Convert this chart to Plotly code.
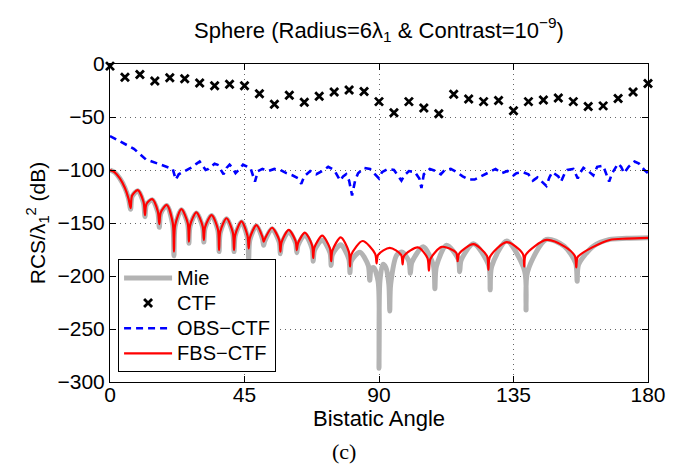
import plotly.graph_objects as go

# ---------------- data ----------------
ctf_angle = list(range(0, 181, 5))
ctf_db = [-2, -12.5, -10, -16, -13, -14, -18, -20.5, -19, -20.5,
          -28, -38, -29.5, -36, -30.5, -26.5, -24.5, -26, -35.5,
          -46, -35.5, -41.5, -47, -28.5, -33, -35.5, -34.5, -44,
          -35.5, -34, -32, -35.5, -40, -39.5, -32.5, -26.5, -18.5]

obs_angle = [0, 2, 4, 6, 8, 10, 12, 14, 16, 18, 20, 21, 22, 23, 25, 27, 29, 30, 31, 32,
             33, 35, 36, 37, 38, 39, 40, 41, 42, 43, 44.5, 46, 47, 48.5, 49.5, 51, 53, 55, 57, 59,
             61, 63, 64, 65, 67, 69, 71, 73, 75, 77, 78, 79, 80, 81, 82, 83, 85, 87, 89, 90,
             91, 93, 95, 96, 97.5, 98.5, 100, 102, 103.5, 104.2, 105, 107, 109, 110.7, 112, 114, 116, 118, 120, 122,
             124, 126, 128, 129, 130, 131, 133, 135, 136, 138, 140, 141.5, 143, 144.5, 146, 147, 148, 150, 150.9, 152,
             153, 155, 156.5, 157, 158.4, 160, 161.7, 163, 165, 167, 168, 170, 171, 172, 173.5, 175.5, 177, 178.8, 180]
obs_db = [-68, -71, -74, -77, -80, -85, -90, -92, -94, -96, -97.5, -99, -109, -104, -101, -98, -94, -92, -96, -100,
          -99, -94, -95, -99, -104, -98, -95, -98, -103, -100, -95, -97, -98, -111, -101, -99, -101, -99, -100, -103,
          -105, -108, -113, -106, -101, -104, -101, -97, -100, -110, -106, -104, -110, -124, -110, -103, -98, -99, -105, -108,
          -102, -99, -100, -104, -110, -105, -101, -102, -108, -117, -104, -99, -101, -104, -100, -99, -102, -106, -109, -109,
          -106, -103, -100, -99, -101, -103, -101, -105, -103, -102, -104, -110, -107, -111, -115, -107, -102, -106, -111, -104,
          -100, -99, -108, -104, -98, -101, -105, -97, -96, -111, -103, -94, -97, -103, -97, -92, -94, -100, -103]

fbs_angle = [0, 1.5, 3.3, 5.0, 6.2, 6.9, 7.4, 9.3, 11.2, 11.7, 12.2, 14.1, 16.0, 16.5, 17.0, 19.0,
             21.0, 21.4, 21.8, 23.9, 26.0, 26.4, 26.8, 28.9, 31.0, 31.4, 31.8, 34.0, 36.1, 36.5, 36.9, 39.0,
             41.1, 41.5, 41.9, 44.0, 46.0, 46.4, 46.8, 49.0, 51.0, 51.4, 51.8, 54.2, 56.6, 57.0, 57.4, 59.8,
             62.1, 62.5, 62.9, 65.2, 67.6, 68.0, 68.4, 71.0, 73.6, 74.0, 74.4, 77.2, 79.9, 80.3, 80.7, 84.5,
             88.7, 89.2, 89.7, 93.6, 97.4, 97.9, 98.4, 103.0, 106.2, 106.7, 107.2, 111.0, 115.8, 116.3, 116.8, 121.6,
             126.1, 126.6, 127.1, 132.7, 138.1, 138.6, 139.1, 146.0, 152.0, 155.5, 156.0, 156.5, 161.7, 167.2, 172.8, 180]
fbs_db = [-100, -102, -108, -117, -127, -136, -124, -119, -130, -142.5, -132, -127.5, -139, -151, -140, -133,
          -150, -177, -152, -137, -150, -167.5, -152, -140, -153, -166, -154, -142.5, -156, -175.5, -158, -145.5,
          -159, -175.5, -161, -148.5, -162, -174, -164, -152, -163, -167.5, -165, -154.5, -166, -177, -168, -156.5,
          -167, -175.5, -169, -159, -171, -183, -173, -162, -174, -186, -176, -163.5, -177, -191, -180, -167,
          -179, -188, -180, -173.4, -180, -189, -181, -173, -183, -195, -184, -172.5, -178, -186, -179, -170,
          -181, -194, -182, -168, -179, -191, -180, -166, -172, -181, -192, -182, -172.5, -166, -164.7, -164]

mie_angle = [0, 1.5, 3.3, 5.0, 6.2, 6.9, 7.4, 9.3, 11.2, 11.7, 12.2, 14.1, 16.0, 16.5, 17.0, 19.0,
             21.0, 21.4, 21.8, 23.9, 26.0, 26.4, 26.8, 28.9, 31.0, 31.4, 31.8, 34.0, 36.1, 36.5, 36.9, 39.0,
             41.1, 41.5, 41.9, 44.0, 46.0, 46.4, 46.8, 49.0, 51.0, 51.4, 51.8, 54.2, 56.6, 57.0, 57.4, 59.8,
             62.1, 62.5, 62.9, 65.2, 67.6, 68.0, 68.4, 71.0, 73.6, 74.0, 74.4, 77.2, 79.9, 80.3, 80.7, 83.6,
             86.4, 86.9, 87.4, 88.2, 89.7, 90.0, 90.3, 91.3, 92.3, 93.3, 93.6, 93.9, 96.0, 97.8, 100.0, 100.5,
             101.0, 104.8, 108.2, 108.7, 109.2, 112.6, 116.5, 117.0, 117.5, 121.6, 126.7, 127.2, 127.7, 132.7,
             138.7, 139.2, 139.7, 146.0, 152.0, 155.8, 156.3, 156.8, 161.7, 167.2, 172.8, 180]
mie_db = [-100, -102, -108, -117, -127, -137, -125, -119.5, -131, -144, -133, -128, -140, -154, -141, -133.5,
          -152, -181, -153, -137.5, -151, -169, -153, -140.5, -154, -168, -155, -143, -157, -177, -159, -146,
          -160, -177, -162, -149, -164, -184, -166, -152.5, -165, -171, -167, -155.5, -168, -179, -170, -158,
          -169, -178, -171, -161, -174, -186, -176, -166, -178, -190, -180, -170.5, -184, -197, -186, -177.5,
          -190, -204, -193, -192, -205, -287, -205, -189, -192, -208, -233, -208, -180, -177.5, -186, -197.5,
          -187, -172.5, -190, -212, -191, -171, -184, -196, -185, -169.5, -190, -213, -191, -167,
          -195, -232, -196, -165.5, -172, -188, -205, -189, -172, -165.5, -164.5, -164]

x_ticks = [0, 45, 90, 135, 180]
y_ticks = [0, -50, -100, -150, -200, -250, -300]

# ---------------- figure ----------------
FONT = "Liberation Sans, Arial, sans-serif"


def big(name):
    return '<span style="font-size:20px">' + name + '</span>'


fig = go.Figure()

fig.add_trace(go.Scatter(x=mie_angle, y=mie_db, mode="lines", name=big("Mie"),
                         line=dict(color="#b3b3b3", width=5, shape="spline", smoothing=0.8)))
fig.add_trace(go.Scatter(x=ctf_angle, y=ctf_db, mode="markers", name=big("CTF"), cliponaxis=False,
                         marker=dict(symbol="x-thin-open", size=8, color="black",
                                     line=dict(color="black", width=2.8))))
fig.add_trace(go.Scatter(x=obs_angle, y=obs_db, mode="lines", name=big("OBS\u2212CTF"),
                         line=dict(color="#0000ff", width=2.6, dash="7px,5px")))
fig.add_trace(go.Scatter(x=fbs_angle, y=fbs_db, mode="lines", name=big("FBS\u2212CTF"),
                         line=dict(color="#ff0000", width=2.2, shape="spline", smoothing=0.8)))

axis_common = dict(showline=True, linecolor="black", linewidth=1, mirror="ticks",
                   ticks="inside", ticklen=6, tickcolor="black", tickwidth=1,
                   showgrid=True, gridcolor="#666666", griddash="1px,4px", gridwidth=1,
                   zeroline=False, tickfont=dict(family=FONT, size=21, color="black"))

fig.update_xaxes(range=[0, 180], tickvals=x_ticks, ticktext=[str(v) for v in x_ticks],
                 ticklabelstandoff=-6,
                 title=dict(text="Bistatic Angle", font=dict(family=FONT, size=22, color="black"),
                            standoff=0),
                 **axis_common)
fig.update_yaxes(range=[-300, 0], tickvals=y_ticks, ticklabelstandoff=0,
                 title=dict(text="RCS/\u03bb<sub>1</sub><sup>2</sup> (dB)",
                            font=dict(family=FONT, size=21, color="black"), standoff=6),
                 **axis_common)

# page body has an 8px margin, so the figure is 8px smaller than the window
fig.update_layout(
    width=680, height=466,
    margin=dict(l=102, r=40, t=56, b=92),
    paper_bgcolor="white", plot_bgcolor="white",
    title=dict(text="Sphere (Radius=6\u03bb<sub>1</sub> & Contrast=10<sup>\u22129</sup>)",
               x=0.5, xref="paper", xanchor="center", y=1 - 22 / 466, yanchor="middle",
               font=dict(family=FONT, size=22, color="black")),
    legend=dict(x=0.015, y=0.03, xanchor="left", yanchor="bottom",
                bgcolor="white", bordercolor="black", borderwidth=1,
                font=dict(family=FONT, size=17, color="black"),
                itemwidth=48, tracegroupgap=0),
    showlegend=True,
    annotations=[dict(text="(c)", xref="paper", yref="paper", x=0.435, y=-0.22,
                      xanchor="center", yanchor="middle", showarrow=False,
                      font=dict(family="Liberation Serif, Times New Roman, serif", size=22, color="black"))],
)

fig.write_html("out.html")
